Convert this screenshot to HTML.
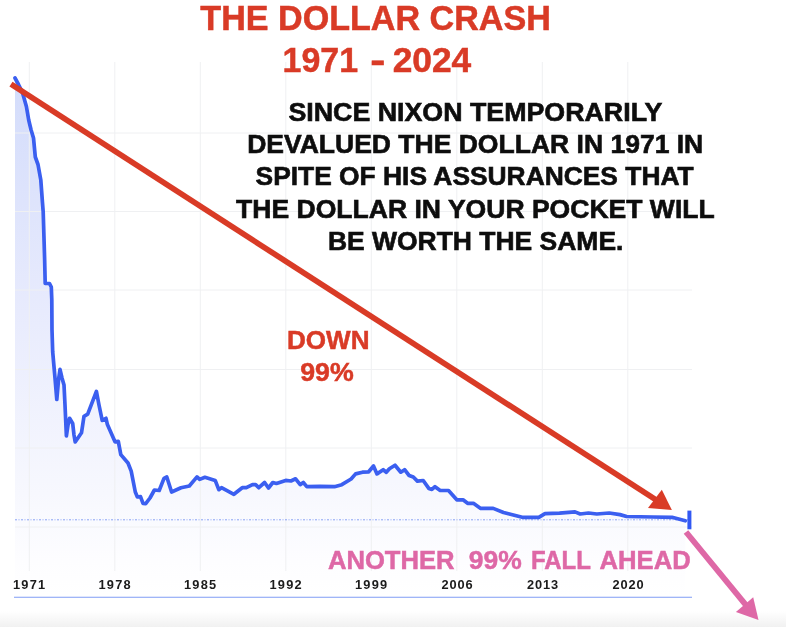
<!DOCTYPE html>
<html><head><meta charset="utf-8"><title>The Dollar Crash 1971 - 2024</title>
<style>
html,body{margin:0;padding:0;background:#fff;overflow:hidden;}
svg{display:block;}
text{font-family:"Liberation Sans",Arial,Helvetica,sans-serif;font-weight:bold;white-space:pre;}
.yr{fill:#1a1a1a;}
.blk{fill:#0a0a0a;stroke:#0a0a0a;stroke-width:0.6px;}
.red{fill:#d93a26;stroke:#d93a26;stroke-width:0.5px;}
.pink{fill:#de67a6;stroke:#de67a6;stroke-width:0.5px;}
</style></head>
<body>
<svg width="786" height="627" viewBox="0 0 786 627">
<defs>
<linearGradient id="af" gradientUnits="userSpaceOnUse" x1="0" y1="78" x2="0" y2="597">
<stop offset="0" stop-color="#d3dcfb"/>
<stop offset="0.45" stop-color="#e8ebfd"/>
<stop offset="0.8" stop-color="#f7f8fe"/>
<stop offset="0.93" stop-color="#fdfdff"/>
<stop offset="1" stop-color="#ffffff"/>
</linearGradient>
<linearGradient id="bf" x1="0" y1="0" x2="0" y2="1">
<stop offset="0" stop-color="#ffffff"/>
<stop offset="1" stop-color="#f1f1f1"/>
</linearGradient>
<filter id="soft" x="0" y="0" width="786" height="627" filterUnits="userSpaceOnUse"><feGaussianBlur stdDeviation="0.45"/></filter>
</defs>
<rect x="0" y="0" width="786" height="627" fill="#ffffff"/>
<g filter="url(#soft)">
<rect x="0" y="611" width="786" height="16" fill="url(#bf)"/>
<path d="M15.0,78.0 L18.5,84.5 L22.3,92.0 L26.4,106.5 L28.7,120.0 L31.1,130.0 L33.5,138.0 L35.3,157.0 L38.0,164.5 L40.8,180.0 L42.5,203.0 L43.2,212.0 L44.6,258.0 L45.2,283.5 L49.5,283.5 L51.3,287.0 L51.8,300.0 L52.0,330.0 L52.7,352.0 L55.0,378.0 L56.8,399.5 L58.5,380.0 L60.0,369.4 L62.0,378.0 L64.0,385.0 L65.0,405.0 L66.4,436.0 L68.0,425.0 L69.6,418.3 L72.7,423.5 L74.0,435.0 L75.2,442.0 L81.5,432.8 L84.0,416.3 L87.7,414.2 L96.4,391.4 L99.0,405.0 L102.2,420.4 L106.0,418.3 L107.4,424.6 L115.0,441.8 L118.3,441.3 L120.8,454.6 L128.0,463.0 L131.2,471.2 L135.3,492.0 L137.4,497.0 L140.5,496.7 L143.0,503.3 L145.7,503.7 L150.0,498.0 L154.4,490.0 L159.2,490.5 L164.0,478.4 L166.8,477.0 L171.6,492.0 L181.0,487.8 L189.3,486.0 L197.0,476.9 L199.7,479.4 L204.9,477.3 L215.2,480.4 L218.8,489.7 L221.5,487.7 L233.9,494.3 L242.2,487.7 L246.3,487.7 L252.5,484.6 L255.6,484.6 L258.8,487.7 L264.6,482.5 L268.5,488.0 L272.8,482.5 L276.4,483.5 L285.7,480.4 L290.9,481.0 L295.6,478.8 L300.2,484.6 L303.3,482.5 L306.8,486.6 L320.0,486.3 L334.5,486.7 L341.8,484.7 L351.1,479.0 L355.6,473.9 L362.5,472.2 L368.7,471.8 L373.5,466.0 L377.0,473.9 L383.2,469.7 L386.3,472.2 L389.4,468.7 L395.0,465.2 L400.8,472.2 L404.6,469.7 L409.1,475.5 L413.3,477.0 L417.4,481.1 L423.2,480.5 L428.8,488.4 L431.9,489.4 L435.0,486.7 L440.2,490.5 L448.5,490.5 L456.8,499.8 L463.0,499.8 L467.6,503.3 L473.4,503.3 L480.7,508.4 L493.2,508.4 L503.5,512.5 L522.2,517.3 L538.8,517.3 L545.0,513.6 L559.5,513.2 L575.0,511.9 L580.2,514.0 L588.5,513.0 L596.8,514.0 L609.2,513.0 L620.0,514.6 L626.6,516.5 L653.0,517.0 L672.0,517.3 L685.3,520.8 L685.3,597 L15,597 Z" fill="url(#af)"/>
<line x1="29.3" y1="62" x2="29.3" y2="571" stroke="#eff0f2" stroke-width="1"/>
<line x1="114.8" y1="62" x2="114.8" y2="571" stroke="#eff0f2" stroke-width="1"/>
<line x1="200.3" y1="62" x2="200.3" y2="571" stroke="#eff0f2" stroke-width="1"/>
<line x1="285.8" y1="62" x2="285.8" y2="571" stroke="#eff0f2" stroke-width="1"/>
<line x1="371.3" y1="62" x2="371.3" y2="571" stroke="#eff0f2" stroke-width="1"/>
<line x1="456.8" y1="62" x2="456.8" y2="571" stroke="#eff0f2" stroke-width="1"/>
<line x1="542.3" y1="62" x2="542.3" y2="571" stroke="#eff0f2" stroke-width="1"/>
<line x1="627.8" y1="62" x2="627.8" y2="571" stroke="#eff0f2" stroke-width="1"/>
<line x1="15" y1="133.0" x2="692" y2="133.0" stroke="#eff0f2" stroke-width="1"/>
<line x1="15" y1="211.5" x2="692" y2="211.5" stroke="#eff0f2" stroke-width="1"/>
<line x1="15" y1="290.0" x2="692" y2="290.0" stroke="#eff0f2" stroke-width="1"/>
<line x1="15" y1="369.5" x2="692" y2="369.5" stroke="#eff0f2" stroke-width="1"/>
<line x1="15" y1="448.0" x2="692" y2="448.0" stroke="#eff0f2" stroke-width="1"/>
<line x1="15" y1="527.0" x2="692" y2="527.0" stroke="#eff0f2" stroke-width="1"/>
<line x1="15" y1="519.8" x2="690" y2="519.8" stroke="#5b7cf0" stroke-width="1" stroke-dasharray="2,1.5,1,1.5" opacity="0.7"/>
<line x1="14" y1="597.2" x2="692" y2="597.2" stroke="#7f9df5" stroke-width="1.15"/>
<path d="M15.0,78.0 L18.5,84.5 L22.3,92.0 L26.4,106.5 L28.7,120.0 L31.1,130.0 L33.5,138.0 L35.3,157.0 L38.0,164.5 L40.8,180.0 L42.5,203.0 L43.2,212.0 L44.6,258.0 L45.2,283.5 L49.5,283.5 L51.3,287.0 L51.8,300.0 L52.0,330.0 L52.7,352.0 L55.0,378.0 L56.8,399.5 L58.5,380.0 L60.0,369.4 L62.0,378.0 L64.0,385.0 L65.0,405.0 L66.4,436.0 L68.0,425.0 L69.6,418.3 L72.7,423.5 L74.0,435.0 L75.2,442.0 L81.5,432.8 L84.0,416.3 L87.7,414.2 L96.4,391.4 L99.0,405.0 L102.2,420.4 L106.0,418.3 L107.4,424.6 L115.0,441.8 L118.3,441.3 L120.8,454.6 L128.0,463.0 L131.2,471.2 L135.3,492.0 L137.4,497.0 L140.5,496.7 L143.0,503.3 L145.7,503.7 L150.0,498.0 L154.4,490.0 L159.2,490.5 L164.0,478.4 L166.8,477.0 L171.6,492.0 L181.0,487.8 L189.3,486.0 L197.0,476.9 L199.7,479.4 L204.9,477.3 L215.2,480.4 L218.8,489.7 L221.5,487.7 L233.9,494.3 L242.2,487.7 L246.3,487.7 L252.5,484.6 L255.6,484.6 L258.8,487.7 L264.6,482.5 L268.5,488.0 L272.8,482.5 L276.4,483.5 L285.7,480.4 L290.9,481.0 L295.6,478.8 L300.2,484.6 L303.3,482.5 L306.8,486.6 L320.0,486.3 L334.5,486.7 L341.8,484.7 L351.1,479.0 L355.6,473.9 L362.5,472.2 L368.7,471.8 L373.5,466.0 L377.0,473.9 L383.2,469.7 L386.3,472.2 L389.4,468.7 L395.0,465.2 L400.8,472.2 L404.6,469.7 L409.1,475.5 L413.3,477.0 L417.4,481.1 L423.2,480.5 L428.8,488.4 L431.9,489.4 L435.0,486.7 L440.2,490.5 L448.5,490.5 L456.8,499.8 L463.0,499.8 L467.6,503.3 L473.4,503.3 L480.7,508.4 L493.2,508.4 L503.5,512.5 L522.2,517.3 L538.8,517.3 L545.0,513.6 L559.5,513.2 L575.0,511.9 L580.2,514.0 L588.5,513.0 L596.8,514.0 L609.2,513.0 L620.0,514.6 L626.6,516.5 L653.0,517.0 L672.0,517.3 L685.3,520.8" fill="none" stroke="#3a5ef0" stroke-width="3.7" stroke-linejoin="round" stroke-linecap="round"/>
<line x1="689.4" y1="510.6" x2="689.4" y2="529.3" stroke="#3059f3" stroke-width="4"/>
<text x="200.30" y="29.5" class="red" font-size="34.2" textLength="350.56" lengthAdjust="spacingAndGlyphs" xml:space="preserve">THE DOLLAR CRASH</text>
<text y="72.2" class="red" font-size="34.2" xml:space="preserve"><tspan x="282.62" textLength="75.44" lengthAdjust="spacingAndGlyphs">1971</tspan><tspan> </tspan><tspan x="370.28" textLength="15.06" lengthAdjust="spacingAndGlyphs">-</tspan><tspan> </tspan><tspan x="392.67" textLength="78.60" lengthAdjust="spacingAndGlyphs">2024</tspan></text>
<text x="288.44" y="120.5" class="blk" font-size="25.2" textLength="373.96" lengthAdjust="spacingAndGlyphs" xml:space="preserve">SINCE NIXON TEMPORARILY</text>
<text x="247.15" y="152.9" class="blk" font-size="25.2" textLength="456.12" lengthAdjust="spacingAndGlyphs" xml:space="preserve">DEVALUED THE DOLLAR IN 1971 IN</text>
<text x="255.55" y="185.3" class="blk" font-size="25.2" textLength="438.09" lengthAdjust="spacingAndGlyphs" xml:space="preserve">SPITE OF HIS ASSURANCES THAT</text>
<text x="236.10" y="217.9" class="blk" font-size="25.2" textLength="478.63" lengthAdjust="spacingAndGlyphs" xml:space="preserve">THE DOLLAR IN YOUR POCKET WILL</text>
<text x="327.95" y="249.7" class="blk" font-size="25.2" textLength="295.48" lengthAdjust="spacingAndGlyphs" xml:space="preserve">BE WORTH THE SAME.</text>
<text x="286.98" y="349.4" class="red" font-size="25.5" textLength="82.49" lengthAdjust="spacingAndGlyphs" xml:space="preserve">DOWN</text>
<text x="300.25" y="380.6" class="red" font-size="25.5" textLength="53.50" lengthAdjust="spacingAndGlyphs" xml:space="preserve">99%</text>
<text y="568.6" class="pink" font-size="26.5" xml:space="preserve"><tspan x="327.93" textLength="126.66" lengthAdjust="spacingAndGlyphs">ANOTHER</tspan><tspan>  </tspan><tspan x="468.80" textLength="52.94" lengthAdjust="spacingAndGlyphs">99%</tspan><tspan> </tspan><tspan x="530.90" textLength="59.62" lengthAdjust="spacingAndGlyphs">FALL</tspan><tspan> </tspan><tspan x="599.53" textLength="91.26" lengthAdjust="spacingAndGlyphs">AHEAD</tspan></text>
<text x="13.00" y="589.2" class="yr" font-size="12.8" letter-spacing="1.20">1971</text>
<text x="98.50" y="589.2" class="yr" font-size="12.8" letter-spacing="1.20">1978</text>
<text x="184.00" y="589.2" class="yr" font-size="12.8" letter-spacing="1.20">1985</text>
<text x="269.50" y="589.2" class="yr" font-size="12.8" letter-spacing="1.20">1992</text>
<text x="355.00" y="589.2" class="yr" font-size="12.8" letter-spacing="1.20">1999</text>
<text x="441.50" y="589.2" class="yr" font-size="12.8" letter-spacing="0.87">2006</text>
<text x="527.00" y="589.2" class="yr" font-size="12.8" letter-spacing="0.87">2013</text>
<text x="612.50" y="589.2" class="yr" font-size="12.8" letter-spacing="0.87">2020</text>
<line x1="11" y1="84.2" x2="658" y2="501.2" stroke="#d93a26" stroke-width="5.7"/>
<polygon points="671.9,510.1 661.8,489.8 648,508" fill="#d93a26"/>
<line x1="686" y1="532" x2="747" y2="606.4" stroke="#de67a6" stroke-width="5.8"/>
<polygon points="758.5,619.9 753.2,597.2 735.9,611.9" fill="#de67a6"/>
</g>
</svg>
</body></html>
